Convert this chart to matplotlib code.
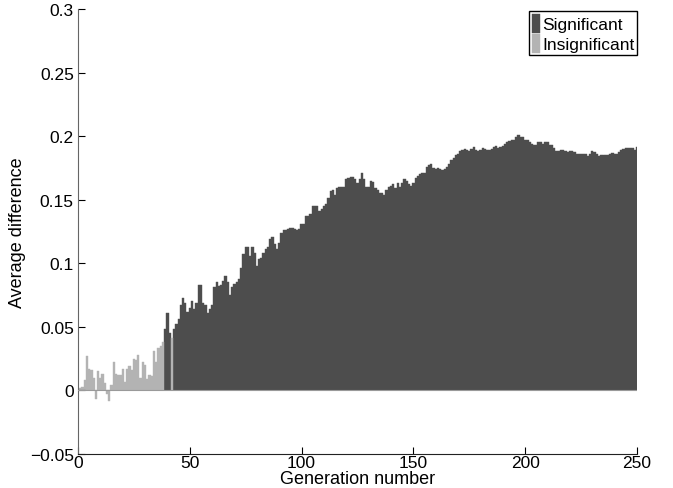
import matplotlib.pyplot as plt
import numpy as np

plt.rcParams['font.family'] = ['Liberation Sans', 'DejaVu Sans']

# average difference per generation (generations 1..250)
diff_001_049 = [0.002, 0.003, 0.008, 0.027, 0.017, 0.016, 0.010, -0.007, 0.015, 0.010,
                0.013, 0.006, -0.003, -0.008, 0.004, 0.022, 0.013, 0.0125, 0.012, 0.017,
                0.007, 0.017, 0.019, 0.016, 0.025, 0.024, 0.028, 0.010, 0.022, 0.020,
                0.009, 0.012, 0.011, 0.031, 0.022, 0.033, 0.035, 0.038,
                0.048, 0.061, 0.045, 0.041, 0.048, 0.052, 0.056, 0.067, 0.073, 0.069, 0.062]
diff_050_100 = [0.065, 0.070, 0.064, 0.069, 0.083, 0.083, 0.069, 0.067, 0.061, 0.064,
                0.067, 0.081, 0.085, 0.082, 0.083, 0.086, 0.090, 0.085, 0.075, 0.081,
                0.084, 0.085, 0.088, 0.096, 0.107, 0.113, 0.113, 0.106, 0.113, 0.108,
                0.098, 0.103, 0.104, 0.108, 0.111, 0.113, 0.119, 0.121, 0.115, 0.111,
                0.116, 0.124, 0.126, 0.126, 0.127, 0.128, 0.128, 0.127, 0.126, 0.127,
                0.131]
diff_101_149 = [0.131, 0.137, 0.1375, 0.139, 0.145, 0.145, 0.145, 0.141, 0.143, 0.145,
                0.147, 0.151, 0.157, 0.158, 0.154, 0.159, 0.160, 0.160, 0.160, 0.166,
                0.167, 0.168, 0.168, 0.166, 0.163, 0.166, 0.171, 0.166, 0.160, 0.160,
                0.165, 0.164, 0.159, 0.158, 0.155, 0.155, 0.154, 0.158, 0.160, 0.161,
                0.162, 0.159, 0.163, 0.160, 0.163, 0.166, 0.165, 0.162, 0.161]
diff_150_199 = [0.163, 0.167, 0.1685, 0.170, 0.171, 0.171, 0.176, 0.177, 0.178, 0.175,
                0.174, 0.175, 0.174, 0.173, 0.174, 0.176, 0.178, 0.181, 0.183, 0.185,
                0.186, 0.188, 0.189, 0.190, 0.189, 0.188, 0.190, 0.1915, 0.189, 0.188,
                0.189, 0.191, 0.190, 0.189, 0.189, 0.190, 0.1915, 0.192, 0.191, 0.1915,
                0.192, 0.194, 0.195, 0.196, 0.197, 0.197, 0.199, 0.201, 0.199, 0.199]
diff_200_250 = [0.197, 0.197, 0.1955, 0.1935, 0.193, 0.193, 0.195, 0.1955, 0.194, 0.1955,
                0.195, 0.193, 0.193, 0.191, 0.188, 0.188, 0.189, 0.189, 0.188, 0.1875,
                0.188, 0.188, 0.1875, 0.186, 0.186, 0.186, 0.186, 0.186, 0.184, 0.186,
                0.188, 0.1875, 0.186, 0.1845, 0.185, 0.185, 0.185, 0.185, 0.186, 0.187,
                0.186, 0.186, 0.1875, 0.189, 0.190, 0.1905, 0.191, 0.1905, 0.1905, 0.189,
                0.1915]

# generations where the difference was not significant
insignificant_gens = list(range(1, 39)) + [42]

xticks = [0, 50, 100, 150, 200, 250]
yticks = [-0.05, 0, 0.05, 0.1, 0.15, 0.2, 0.25, 0.3]
ytick_labels = ['\u22120.05', '0', '0.05', '0.1', '0.15', '0.2', '0.25', '0.3']

gens = np.arange(1, 251)
avg_diff = np.array(diff_001_049 + diff_050_100 + diff_101_149 + diff_150_199 + diff_200_250)
sig = ~np.isin(gens, insignificant_gens)

dark = '#4d4d4d'
light = '#b3b3b3'

fig = plt.figure(figsize=(6.73, 4.89), dpi=100)
ax = fig.add_axes([0.1159, 0.0695, 0.8306, 0.9101])

ax.bar(gens[sig], avg_diff[sig], width=1.0, color=dark, edgecolor=dark,
       linewidth=0.3, label='Significant')
ax.bar(gens[~sig], avg_diff[~sig], width=1.0, color=light, edgecolor=light,
       linewidth=0.3, label='Insignificant')
ax.axhline(0, color='#9a9a9a', lw=0.8, zorder=3)

ax.set_xlim(0, 250)
ax.set_ylim(-0.05, 0.3)
ax.set_xticks(xticks)
ax.set_yticks(yticks)
ax.set_yticklabels(ytick_labels)

for s in ['top', 'right']:
    ax.spines[s].set_visible(False)
ax.spines['left'].set_color('#666666')
ax.spines['bottom'].set_color('#222222')
ax.tick_params(direction='in', length=5, width=0.8, labelsize=12.5)
ax.tick_params(axis='x', pad=1)
ax.tick_params(axis='y', pad=3)

ax.set_xlabel('Generation number', fontsize=13, labelpad=0)
ax.set_ylabel('Average difference', fontsize=13, labelpad=3)

leg = ax.legend(loc='upper right', bbox_to_anchor=(1.0, 0.995), fontsize=12.5,
                handlelength=0.45, handleheight=1.3, handletextpad=0.15,
                borderpad=0.15, labelspacing=0.05, borderaxespad=0.0,
                fancybox=False, framealpha=1)
leg.get_frame().set_edgecolor('black')
leg.get_frame().set_linewidth(1.0)

fig.savefig('out.png', dpi=100)
